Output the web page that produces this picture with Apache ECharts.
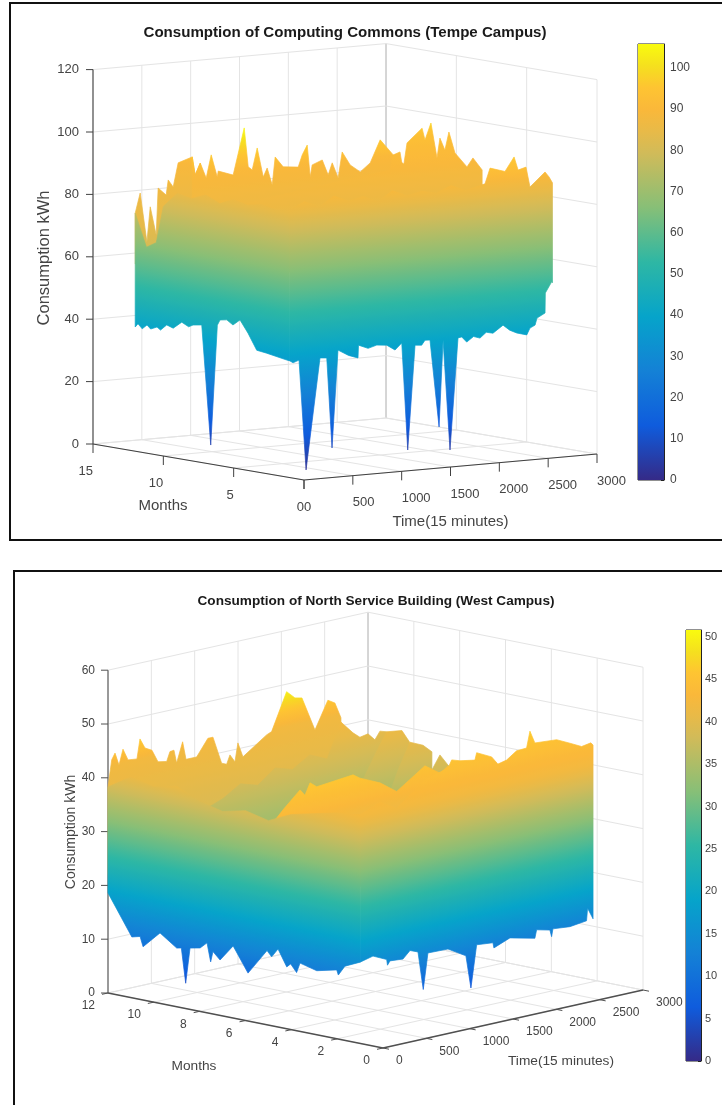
<!DOCTYPE html>
<html><head><meta charset="utf-8">
<style>html,body{margin:0;padding:0;background:#fff}#c{width:722px;height:1105px}</style>
<script src="https://cdn.jsdelivr.net/npm/echarts@6/dist/echarts.min.js"></script>
</head><body><div id="c"></div>
<script>
// ---------- tick labels ----------
const p1TimeTicks=[0,500,1000,1500,2000,2500,3000];
const p1MonthTicks=[0,5,10,15];
const p1KwhTicks=[0,20,40,60,80,100,120];
const p2TimeTicks=[0,500,1000,1500,2000,2500,3000];
const p2MonthTicks=[0,2,4,6,8,10,12];
const p2KwhTicks=[0,10,20,30,40,50,60];
const p1ColorMax=105.8, p2ColorMax=50.8;
const parula=['#352a87','#0f5cdd','#1481d6','#06a4ca','#2eb7a4','#87bf77','#d1bb59','#e8ba48','#fab83a','#fec432','#f5e01e','#f9fb0e'];
const parulaAtOffset=[0,.125,.25,.375,.5,.625,.75,.8,.85,.9,.95,1];

// ---------- panel 1 values: kWh read along month rows and the t=0 edge ----------
const p1BackTime=[0,51,120,154,215,235,317,338,389,440,584,614,666,727];
const p1BackTop=[76.3,82.6,66.7,77.9,68.7,83.7,81.2,86,83.6,91.2,92.7,86.8,90.5,80];
const p1Row8Time=[8,38,90,151,202,264,274,427,540,581,622,673,735,775,827,857,939,1093,1134,1185,1216,1236,1339,1400,1441,1502,1543,1625,1728,1830,1932,2066,2112,2300,2688];
const p1Row8Top=[97.4,91.5,95.2,90.2,97.5,90.2,92.1,90.4,105.2,92.6,91.5,98.4,88.9,91.7,86.1,95,91.6,91.1,94.9,97.9,87.6,91.4,92.7,87.7,91.5,86.5,94.7,90.3,87.8,90.4,97.5,92.3,90.6,86,80];
const p1MidTime=[0,823,1745,1775,1847,1878,1919,2073,2103,2164,2226,2256,2307,2348,2410,2533,2594,2688];
const p1MidTop=[82,86,89.9,94.6,95.4,89.5,98.1,102.4,98.5,103.8,92.4,98.7,94.7,100.4,93.5,88.7,91.4,87.3];
const p1EdgeMonth=[12,11.2,10.5,10,9,8,7,6,5,4,3,2,1];
const p1EdgeTop=[76.3,66,68,80,85,84,86,84,86,85,86,85,86];
const p1EdgeLowMonth=[12,11.8,11.5,11.16,10.9,10.45,10.2,9.76,9.3,8.69,8.2,7.89,7.27,6.63,6.16,5.97,5.49,5.05,4.55,3.98,3.36,2.65,1.22,1];
const p1EdgeLow=[39.8,41,39.6,41.1,40,41,40.2,42.2,41.5,43.9,42.8,43.6,44.1,6.1,44.9,46.7,47.1,45.8,47.8,44,39,38.6,37.5,37.4];
const p1FrontTime=[0,150,300,450,600,750,900,1050,1200,1350,1500,1650,1800,1997,2049,2202,2295,2336,2417,2458,2612,2653,2688];
const p1FrontTop=[86,88,86,89,87,88,86,89,87,88,87,89,87,88.6,93.5,92,96.4,92.1,92.8,86.3,90.7,89,87];
const p1FrontLowTime=[0,32,93,165,308,377,431,492,600,697,702,800,889,991,1076,1145,1206,1281,1349,1383,1434,1527,1568,1639,1721,1759,1810,1880,1946,2010,2079,2182,2250,2322,2425,2458,2510,2530,2612,2615,2680,2688];
const p1FrontLow=[37.4,36.7,37.4,2,37.5,37.3,8.3,39.5,37.5,36.4,40.5,39.2,40,39.7,37.9,40,5.5,38.9,38.7,40.2,40.1,12,39.7,4.3,40,40.2,38.4,40,39.3,41,40.5,42.8,41,39.9,39,41.1,41.9,44.1,45.5,51.9,55.3,55];

// ---------- panel 2 values ----------
const p2BackTime=[0,43,81,127,173,231,334,369,427,507,577,677,715,761,792,861,900,1023,1153,1211,1311,1369,1407,1465,1499,1557,1830,1888,2061,2157,2238,2388,2537,2618,2688];
const p2BackTop=[38.3,43.2,44.3,41.9,44.7,42.5,42.3,45.9,44,43.3,40.9,40.6,42.3,42.4,39.9,43.6,40.2,40.2,43.2,43.2,38,37.6,39.2,37.7,41.1,38.3,41.4,41.8,48.6,47.1,46.8,40.3,45.3,44.5,41.5];
const p2Row10Time=[0,800,1000,1200,1400,1600,1800,2000,2159,2298,2378,2471,2551,2609,2688];
const p2Row10Top=[30,35,37,36,38.5,37.5,39.5,38,44.3,41.8,40.7,41,39.6,41,40.6];
const p2Row9Time=[1800,2100,2300,2423,2598,2688];
const p2Row9Top=[28,33,39,42.4,42,39.5];
const p2Row8Time=[2000,2200,2300,2427,2577,2680];
const p2Row8Top=[28,33,37,41.3,40.2,38.6];
const p2Row7Time=[2100,2300,2508,2600,2680];
const p2Row7Top=[28,34,39.5,37.3,35.9];
const p2Row5Time=[0,53,168,365,422,480,557,976,1057,1287,1480,1806,1841,1980,2072,2210,2688];
const p2Row5Top=[35.3,37.4,39.4,42.4,41.2,43.3,42.3,43,42.1,40.4,38.1,41.7,41.3,39.7,40.7,38.5,32];
const p2EdgeMonth=[12,11,10,9,8,7,6,5,4,3,2,1];
const p2EdgeTop=[38.3,41,40,41,39,38,39,38,40,41,42,42.5];
const p2EdgeLowMonth=[12,10.96,10.6,10.47,9.73,9,8.8,8.61,8.42,7.98,7.68,7.52,7.42,7.11,6.54,5.89,5.06,4.86,4.58,4.2,4.03,3.77,3.62,2.89,2.02,1.95,1.66,1];
const p2EdgeLow=[18.6,11.3,11.7,9.9,13.1,10.9,11.1,4.7,11.4,11.8,13,9.6,11.6,10.3,13.4,8.9,13.8,12.8,14.5,11.5,12.2,10.8,12.7,11.9,12.8,11.9,13.8,15.1];
const p2FrontTime=[0,230,422,749,1014,1057,1152,1325,1345,1518,1590,1691,1806,1921,1960,2017,2268,2421,2556,2663,2688];
const p2FrontTop=[42.5,44,42.2,46.3,47.5,48.9,48.4,47.9,49.2,47.8,46.2,46.6,47.9,48,51,48.6,48.3,47.1,46,46.3,45.8];
const p2FrontLowTime=[0,149,307,316,345,495,576,668,729,783,1014,1221,1279,1345,1533,1544,1729,2017,2037,2190,2210,2225,2421,2613,2625,2688];
const p2FrontLow=[15.1,15.7,14.5,13.4,14.1,13.9,15.2,14.6,7.4,14,13.9,11.9,5.7,13.5,13.2,12.2,13.4,12.3,13.8,13.2,11.9,13.3,13,13.4,15.7,13.5];

// ---------- views: how the 3-D box maps to the page ----------
const view1={ox:304,oy:480,tx:293/3000,ty:-26/3000,mx:-211/15,my:-36/15,zs:3.12,tMax:3000,mMax:15,zMax:120,clim:p1ColorMax};
const view2={ox:383,oy:1048,tx:260/3000,ty:-58/3000,mx:-275/12,my:-55/12,zs:5.38,tMax:3000,mMax:12,zMax:60,clim:p2ColorMax};
const FONT='"Liberation Sans",Arial,sans-serif';
const proj=(v,t,m,z)=>[v.ox+v.tx*t+v.mx*m, v.oy+v.ty*t+v.my*m-v.zs*z];

const hex=h=>[1,3,5].map(i=>parseInt(h.substr(i,2),16));
function parulaAt(f){f=Math.max(0,Math.min(1,f));let i=0;while(i<parula.length-2&&f>parulaAtOffset[i+1])i++;
  const a=hex(parula[i]),b=hex(parula[i+1]),k=(f-parulaAtOffset[i])/(parulaAtOffset[i+1]-parulaAtOffset[i]);
  return 'rgb('+a.map((x,j)=>Math.round(x+(b[j]-x)*k)).join(',')+')';}
const stops=parula.map((c,i)=>({offset:parulaAtOffset[i],color:c}));
function remap(z,sh){ if(!sh)return z; const [a,b]=sh; if(z<=a[0])return b[0];
  for(let i=1;i<a.length;i++) if(z<=a[i]) return b[i-1]+(b[i]-b[i-1])*(z-a[i-1])/(a[i]-a[i-1]);
  return b[b.length-1]; }
function shadedStops(clim,sh){const s=[];for(let i=0;i<=70;i++){const z=clim*i/70;s.push({offset:i/70,color:parulaAt(remap(z,sh)/clim)});}return s;}
function sheet(api,v,path,dir,topS,topZ,lowS,lowZ,sh){
  const pts=[];
  topS.forEach((s,i)=>{const [t,m]=path(s);pts.push(api.coord(proj(v,t,m,topZ[i])));});
  for(let i=lowS.length-1;i>=0;i--){const [t,m]=path(lowS[i]);pts.push(api.coord(proj(v,t,m,lowZ[i])));}
  const [t0,m0]=path(topS[0]);
  const a=api.coord(proj(v,t0,m0,0));
  const L=Math.hypot(dir[0],dir[1]);const nx=-dir[1]/L,ny=dir[0]/L;
  const k=(-v.zs*v.clim)*ny;
  const g=new echarts.graphic.LinearGradient(a[0],a[1],a[0]+nx*k,a[1]+ny*k,shadedStops(v.clim,sh),true);
  return {type:'polygon',shape:{points:pts},style:{fill:g,stroke:g,lineWidth:0.7,lineJoin:'round'}};
}
const rowSheet=(v,m,ts,tz,lo,sh)=>({build:api=>sheet(api,v,s=>[s,m],[v.tx,v.ty],ts,tz,[ts[0],ts[ts.length-1]],[lo,lo],sh)});

const olive=[[22,30,44],[32,34.5,42]];
const surface1=[
  rowSheet(view1,12,p1BackTime,p1BackTop,60,[[60,72,90,105],[78,84,89,105]]),
  rowSheet(view1,8,p1Row8Time,p1Row8Top,60,[[60,72,92,105],[78,84,90,105]]),
  rowSheet(view1,6,p1MidTime,p1MidTop,60,[[60,75,100,105],[78,84,93,100]]),
  {build:api=>sheet(api,view1,s=>[0,s],[view1.mx,view1.my],p1EdgeMonth,p1EdgeTop,p1EdgeLowMonth,p1EdgeLow)},
  {build:api=>sheet(api,view1,s=>[s,1],[view1.tx,view1.ty],p1FrontTime,p1FrontTop,p1FrontLowTime,p1FrontLow)}
];
const surface2=[
  rowSheet(view2,12,p2BackTime,p2BackTop,22,[[22,30,42,49],[34,39,42,50]]),
  rowSheet(view2,10,p2Row10Time,p2Row10Top,22,olive),
  rowSheet(view2,9,p2Row9Time,p2Row9Top,22,olive),
  rowSheet(view2,8,p2Row8Time,p2Row8Top,22,olive),
  rowSheet(view2,7,p2Row7Time,p2Row7Top,22,olive),
  rowSheet(view2,5,p2Row5Time,p2Row5Top,22,[[22,30,43],[34,39,46]]),
  {build:api=>sheet(api,view2,s=>[0,s],[view2.mx,view2.my],p2EdgeMonth,p2EdgeTop,p2EdgeLowMonth,p2EdgeLow)},
  {build:api=>sheet(api,view2,s=>[s,1],[view2.tx,view2.ty],p2FrontTime,p2FrontTop,p2FrontLowTime,p2FrontLow,[[0,42,52],[0,42,47]])}
];

function line(api,a,b,color,w){const p=api.coord(a),q=api.coord(b);
  return {type:'line',shape:{x1:p[0],y1:p[1],x2:q[0],y2:q[1]},style:{stroke:color,lineWidth:w}};}
function label(api,pos,text,size,align,color,rot){const p=api.coord(pos);
  return {type:'text',x:p[0],y:p[1],rotation:rot||0,
    style:{text:String(text),font:size+'px '+FONT,fill:color||'#444',align:align||'center',verticalAlign:'middle'}};}

function boxChildren(api,v,tTicks,mTicks,zTicks,o){
  const c=[],G=o.grid,T=v.tMax,M=v.mMax,Z=v.zMax;
  tTicks.forEach(t=>{
    c.push(line(api,proj(v,t,M,0),proj(v,t,M,Z),t===T?'#c8c8c8':G,1));
    c.push(line(api,proj(v,t,0,0),proj(v,t,M,0),G,1));
  });
  mTicks.forEach(m=>{
    c.push(line(api,proj(v,T,m,0),proj(v,T,m,Z),m===M?'#c8c8c8':G,1));
    c.push(line(api,proj(v,0,m,0),proj(v,T,m,0),G,1));
  });
  zTicks.forEach(z=>{
    c.push(line(api,proj(v,0,M,z),proj(v,T,M,z),G,1));
    c.push(line(api,proj(v,T,M,z),proj(v,T,0,z),G,1));
  });
  const A=o.axis;
  c.push(line(api,proj(v,0,M,0),proj(v,0,M,Z),A,1.1));
  c.push(line(api,proj(v,0,M,0),proj(v,0,0,0),A,o.floorW));
  c.push(line(api,proj(v,0,0,0),proj(v,T,0,0),A,o.floorW));
  zTicks.forEach(z=>{const p=proj(v,0,M,z);
    c.push(line(api,p,[p[0]-7,p[1]],A,1));
    c.push(label(api,[p[0]-o.zGap,p[1]],z,o.tick,'right'));
  });
  mTicks.forEach(m=>{const p=proj(v,0,m,0);
    c.push(line(api,p,[p[0]+o.mTick[0],p[1]+o.mTick[1]],A,1));
    c.push(label(api,[p[0]+o.mOff[0],p[1]+o.mOff[1]],m,o.tick,'right'));
  });
  tTicks.forEach(t=>{const p=proj(v,t,0,0);
    c.push(line(api,p,[p[0]+o.tTick[0],p[1]+o.tTick[1]],A,1));
    c.push(label(api,[p[0]+o.tOff[0],p[1]+o.tOff[1]],t,o.tick,'left'));
  });
  return c;
}
const box1=api=>boxChildren(api,view1,p1TimeTicks,p1MonthTicks,p1KwhTicks,
  {grid:'#e4e4e4',axis:'#404040',floorW:1.1,zGap:14,tick:13,mTick:[0,9],tTick:[0,9],mOff:[0,27],tOff:[0,27]});
const box2=api=>boxChildren(api,view2,p2TimeTicks,p2MonthTicks,p2KwhTicks,
  {grid:'#e4e4e4',axis:'#505050',floorW:1.4,zGap:13,tick:12,mTick:[-6,1.3],tTick:[6,1.2],mOff:[-13,13],tOff:[13,13]});
const names=api=>[
  label(api,[44,258],'Consumption kWh',16.5,'center','#444',Math.PI/2),
  label(api,[163,506],'Months',15,'center','#444'),
  label(api,[450.5,522],'Time(15 minutes)',15,'center','#444'),
  label(api,[71,832],'Consumption kWh',14,'center','#444',Math.PI/2),
  label(api,[194,1066],'Months',13.7,'center','#444'),
  label(api,[561,1061],'Time(15 minutes)',13.7,'center','#444')
];

const layer=(fn)=>({type:'custom',coordinateSystem:'cartesian2d',xAxisIndex:0,yAxisIndex:0,clip:false,silent:true,
  data:[[0,0]],renderItem:(p,api)=>({type:'group',children:fn(api)})});

const cbGrid=(left,width,top,height)=>({left,width,top,height,show:true,borderColor:'#222',borderWidth:1,backgroundColor:'transparent',containLabel:false});
const cbY=(idx,max,step,size,gap)=>({type:'value',gridIndex:idx,min:0,max,interval:step,position:'right',
  axisLine:{show:true,lineStyle:{color:'#222'}},axisTick:{show:true,inside:true,length:3,lineStyle:{color:'#222'}},
  splitLine:{show:false},axisLabel:{color:'#444',fontSize:size,fontFamily:FONT,margin:gap,showMaxLabel:false}});
const cbX=idx=>({type:'category',gridIndex:idx,data:[''],show:false});
const cbBar=(idx,val)=>({type:'bar',xAxisIndex:idx,yAxisIndex:idx,barWidth:'100%',silent:true,data:[val],
  itemStyle:{color:new echarts.graphic.LinearGradient(0,1,0,0,stops)}});

const chart=echarts.init(document.getElementById('c'),null,{renderer:'canvas'});
chart.setOption({
  animation:false,backgroundColor:'#fff',
  title:[
    {text:'Consumption of Computing Commons (Tempe Campus)',left:340,top:20,textAlign:'center',textStyle:{fontFamily:FONT,fontSize:15.1,fontWeight:'bold',color:'#1a1a1a'}},
    {text:'Consumption of North Service Building (West Campus)',left:371,top:589,textAlign:'center',textStyle:{fontFamily:FONT,fontSize:13.6,fontWeight:'bold',color:'#1a1a1a'}}
  ],
  grid:[{left:0,top:0,width:722,height:1105,show:false},cbGrid(638,26,44,436),cbGrid(686,15,630,431)],
  xAxis:[{type:'value',min:0,max:722,show:false,gridIndex:0},cbX(1),cbX(2)],
  yAxis:[{type:'value',min:0,max:1105,inverse:true,show:false,gridIndex:0},cbY(1,p1ColorMax,10,12,6),cbY(2,p2ColorMax,5,11,4)],
  graphic:[
    {type:'polyline',shape:{points:[[722,3],[10,3],[10,540],[722,540]]},style:{stroke:'#111',lineWidth:2,fill:null},silent:true},
    {type:'polyline',shape:{points:[[722,571],[14,571],[14,1105]]},style:{stroke:'#111',lineWidth:2,fill:null},silent:true}
  ],
  series:[
    layer(box1),layer(box2),
    layer(api=>surface1.map(s=>s.build(api))),
    layer(api=>surface2.map(s=>s.build(api))),
    layer(names),
    cbBar(1,p1ColorMax),cbBar(2,p2ColorMax)
  ]
});
</script></body></html>
